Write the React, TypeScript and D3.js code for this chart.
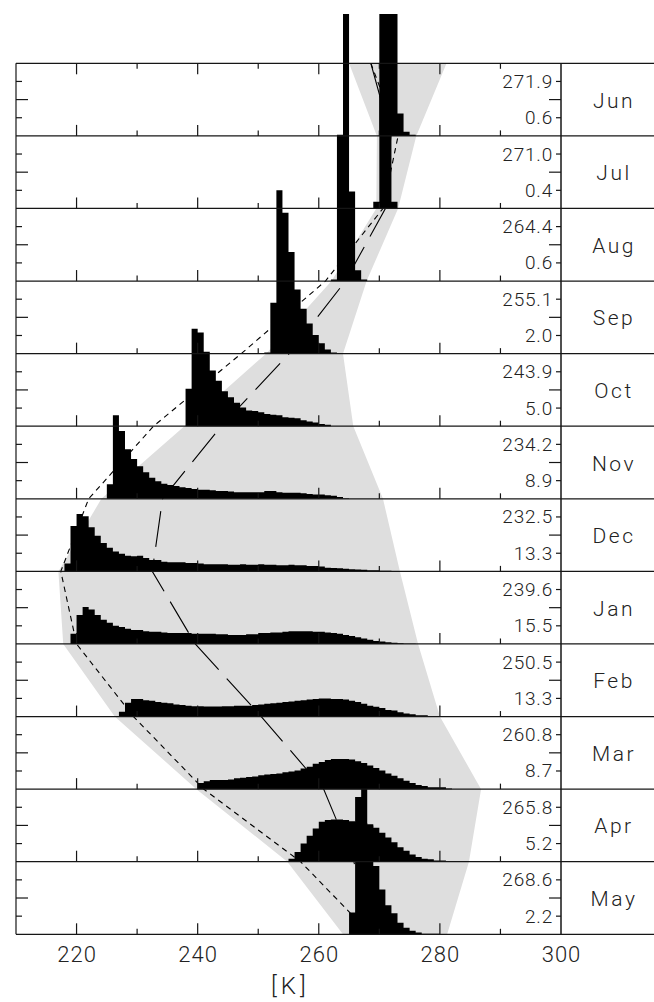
import React from "react";
import * as d3 from "d3";

const W = 654;
const H = 1002;

const months = ["Jun", "Jul", "Aug", "Sep", "Oct", "Nov", "Dec", "Jan", "Feb", "Mar", "Apr", "May"];
const meanLabels = ["271.9", "271.0", "264.4", "255.1", "243.9", "234.2", "232.5", "239.6", "250.5", "260.8", "265.8", "268.6"];
const stdLabels = ["0.6", "0.4", "0.6", "2.0", "5.0", "8.9", "13.3", "15.5", "13.3", "8.7", "5.2", "2.2"];

// long-dashed curve: value at top of first panel, then monthly mean at each panel bottom
const meanCurveK = [268.6, 271.9, 271.0, 264.4, 255.1, 243.9, 234.2, 232.5, 239.6, 250.5, 260.8, 265.8, 268.6];
// short-dashed curve at panel boundaries
const shortDashK = [268.6, 273.1, 270.6, 261.1, 247.2, 232.7, 222.0, 217.4, 220.0, 229.4, 241.0, 257.0, 268.6];
// grey envelope at panel boundaries
const bandLeftK = [265.0, 269.6, 269.5, 262.1, 251.3, 237.8, 224.1, 217.0, 217.8, 226.3, 239.8, 254.8, 264.0];
const bandRightK = [281.1, 276.1, 273.1, 267.9, 264.0, 265.7, 270.6, 273.4, 276.4, 280.0, 286.8, 284.8, 281.2];

// histograms: first bin (K) and frequencies (%) of 1 K bins
const histStart = [270, 269, 262, 251, 238, 225, 218, 219, 227, 240, 255, 265];
const histJun = [6.6, 50, 40, 3.7, 0.7, 0.2];
const histJul = [1.1, 49, 49, 1.1];
const histAug = [0.25, 24.2, 58, 14.8, 1.8, 0.25];
const histSep = [0.2, 8.4, 27, 23.3, 16.8, 10.6, 7.4, 5.0, 3.1, 1.7, 0.7, 0.2];
const histOct = [6.2, 16.1, 15.5, 12.3, 9.2, 7.5, 5.8, 4.8, 3.9, 3.1, 2.6, 2.5, 2.3, 2.0, 1.9, 1.8, 1.5, 1.4, 1.3, 1.0, 0.8, 0.6, 0.35, 0.25];
const histNov = [2.4, 13.8, 11.2, 8.2, 6.6, 5.4, 4.4, 3.5, 2.9, 2.5, 2.3, 2.1, 1.9, 1.8, 1.6, 1.5, 1.5, 1.4, 1.3, 1.3, 1.2, 1.1, 1.1, 1.1, 1.1, 1.1, 1.3, 1.3, 1.1, 1.0, 1.0, 1.0, 0.9, 0.8, 0.7, 0.7, 0.6, 0.5, 0.3, 0.1];
const histDec = [1.3, 7.5, 9.5, 9.1, 7.3, 5.9, 4.7, 3.9, 3.3, 2.9, 2.6, 2.5, 2.6, 2.2, 1.9, 1.9,
  1.6, 1.5, 1.5, 1.5, 1.4, 1.4, 1.3, 1.2, 1.2, 1.2, 1.2, 1.1, 1.1, 1.2, 1.1, 1.1,
  1.2, 1.1, 1.1, 1.0, 1.0, 1.1, 1.0, 1.0, 0.9, 0.9, 0.8, 0.6, 0.55, 0.5, 0.45, 0.35,
  0.3, 0.25, 0.2, 0.2, 0.1, 0.1, 0.05, 0.05];
const histJan = [1.7, 4.8, 6.1, 5.7, 4.8, 4.0, 3.5, 3.0, 2.8, 2.5, 2.3, 2.3, 2.1, 2.0, 2.0, 1.9,
  1.8, 1.8, 1.8, 1.8, 1.7, 1.7, 1.7, 1.7, 1.6, 1.6, 1.5, 1.5, 1.5, 1.6, 1.6, 1.8,
  1.8, 1.9, 1.9, 2.0, 2.1, 2.1, 2.1, 2.1, 2.0, 2.0, 1.9, 1.8, 1.7, 1.5, 1.3, 1.1,
  0.9, 0.7, 0.5, 0.4, 0.3, 0.2, 0.1, 0.05, 0.05];
const histFeb = [0.8, 2.3, 2.9, 2.9, 2.7, 2.6, 2.4, 2.3, 2.2, 2.0, 1.9, 1.8, 1.7, 1.7, 1.65, 1.65,
  1.65, 1.7, 1.7, 1.8, 1.8, 1.8, 1.9, 2.0, 2.1, 2.2, 2.3, 2.4, 2.5, 2.6, 2.7, 2.8,
  2.9, 3.0, 3.0, 2.9, 2.9, 2.8, 2.6, 2.4, 2.1, 1.8, 1.6, 1.4, 1.1, 1.0, 0.7, 0.5,
  0.4, 0.2, 0.2, 0.1, 0.1];
const histMar = [1.0, 1.3, 1.5, 1.5, 1.5, 1.6, 1.8, 1.9, 2.0, 2.1, 2.3, 2.4, 2.5, 2.6, 2.8, 2.9,
  3.1, 3.4, 3.7, 4.2, 4.5, 4.8, 5.0, 5.0, 5.0, 4.9, 4.6, 4.3, 3.9, 3.5, 3.1, 2.6,
  2.2, 1.8, 1.4, 1.0, 0.7, 0.5, 0.3, 0.3, 0.3, 0.1];
const histApr = [0.5, 1.6, 3.0, 4.3, 5.5, 6.6, 6.9, 7.0, 7.0, 6.9, 6.7, 6.6, 6.4, 6.2, 5.6, 4.8,
  4.0, 3.2, 2.4, 1.8, 1.2, 0.8, 0.5, 0.4, 0.2, 0.2];
const histMay = [3.6, 22.7, 25, 18, 11.3, 7.4, 4.8, 3.5, 1.9, 1.1, 0.6, 0.3, 0.1, 0.1, 0.1];

const histograms = [histJun, histJul, histAug, histSep, histOct, histNov, histDec, histJan, histFeb, histMar, histApr, histMay];

const xMinorTicks = [220, 230, 240, 250, 260, 270, 280, 290];
const xMajorTicks = [220, 240, 260, 280];
const xTickLabels = [220, 240, 260, 280, 300];

const FONT = "Roboto, 'Open Sans', 'DejaVu Sans', sans-serif";

export default function App() {
  const left = 16;
  const right = 561;
  const top = 63.3;
  const bottom = 934.3;

  const x = d3.scaleLinear().domain([210, 300]).range([left, right]);
  const band = d3.scaleBand<string>().domain(months).range([top, bottom]).padding(0);
  const ph = band.bandwidth();
  const freq = d3.scaleLinear().domain([0, 12]).range([0, ph]);
  const boundaryY = (i: number) => (i < months.length ? (band(months[i]) as number) : bottom);

  // grey envelope polygon
  const envPts: [number, number][] = [
    ...bandLeftK.map((k, i) => [x(k), boundaryY(i)] as [number, number]),
    ...bandRightK.map((k, i) => [x(k), boundaryY(i)] as [number, number]).reverse(),
  ];
  const envPath = d3.line()(envPts) + "Z";

  const boundLine = d3
    .line<number>()
    .x((k) => x(k))
    .y((_, i) => boundaryY(i));

  const stroke = "#161616";
  const sw = 1.2;

  return (
    <svg
      width={W}
      height={H}
      viewBox={`0 0 ${W} ${H}`}
      style={{ position: "absolute", left: 0, top: 0, background: "#fff" }}
    >
      <defs>
        <clipPath id="histClip">
          <rect x={0} y={14} width={W} height={H - 14} />
        </clipPath>
      </defs>
      <rect x={0} y={0} width={W} height={H} fill="#fff" />

      {/* envelope */}
      <path d={envPath} fill="#dedede" stroke="none" />

      {/* curves */}
      <path d={boundLine(shortDashK) || ""} fill="none" stroke="#000" strokeWidth={1.1} strokeDasharray="5.5,4.5" />
      <path d={boundLine(meanCurveK) || ""} fill="none" stroke="#000" strokeWidth={1.1} strokeDasharray="36,12" />

      {/* histograms */}
      <g clipPath="url(#histClip)">
        {histograms.map((vals, mi) => {
          const base = boundaryY(mi + 1);
          const start = histStart[mi];
          const pts: [number, number][] = vals.map((v, i) => [start + i, v] as [number, number]);
          pts.push([start + vals.length, 0]);
          const area = d3
            .area<[number, number]>()
            .x((d) => x(d[0]))
            .y0(base)
            .y1((d) => base - freq(d[1]))
            .curve(d3.curveStepAfter);
          return <path key={months[mi]} d={area(pts) || ""} fill="#000" stroke="none" />;
        })}
      </g>

      {/* panels */}
      {months.map((m, i) => {
        const y0 = boundaryY(i);
        const y1 = boundaryY(i + 1);
        return (
          <g key={m}>
            {xMinorTicks.map((t) => (
              <line
                key={t}
                x1={x(t)}
                x2={x(t)}
                y1={y1}
                y2={y1 - (xMajorTicks.includes(t) ? 11 : 5.5)}
                stroke={stroke}
                strokeWidth={sw}
              />
            ))}
            {i === 0 &&
              xMinorTicks.map((t) => (
                <line
                  key={"t" + t}
                  x1={x(t)}
                  x2={x(t)}
                  y1={y0}
                  y2={y0 + (xMajorTicks.includes(t) ? 11 : 5.5)}
                  stroke={stroke}
                  strokeWidth={sw}
                />
              ))}
            {[0.25, 0.5, 0.75].map((f) => (
              <line
                key={"l" + f}
                x1={left}
                x2={left + (f === 0.5 ? 12 : 6)}
                y1={y0 + f * ph}
                y2={y0 + f * ph}
                stroke={stroke}
                strokeWidth={sw}
              />
            ))}
            {[0.25, 0.5, 0.75].map((f) => (
              <line
                key={"r" + f}
                x1={right}
                x2={right - (f === 0.5 ? 12 : 5)}
                y1={y0 + f * ph}
                y2={y0 + f * ph}
                stroke={stroke}
                strokeWidth={sw}
              />
            ))}
            <text
              x={553}
              y={y0 + 0.25 * ph}
              textAnchor="end"
              dominantBaseline="central"
              fontFamily={FONT}
              fontWeight={300}
              fontSize={19}
              letterSpacing={0.8}
              fill="#222"
            >
              {meanLabels[i]}
            </text>
            <text
              x={553}
              y={y0 + 0.75 * ph}
              textAnchor="end"
              dominantBaseline="central"
              fontFamily={FONT}
              fontWeight={300}
              fontSize={19}
              letterSpacing={0.8}
              fill="#222"
            >
              {stdLabels[i]}
            </text>
            <text
              x={614}
              y={y0 + 0.5 * ph + 1}
              textAnchor="middle"
              dominantBaseline="central"
              fontFamily={FONT}
              fontWeight={300}
              fontSize={21}
              letterSpacing={2.5}
              fill="#222"
            >
              {m}
            </text>
          </g>
        );
      })}

      {d3.range(months.length + 1).map((i) => (
        <line key={"h" + i} x1={left} x2={W} y1={boundaryY(i)} y2={boundaryY(i)} stroke={stroke} strokeWidth={sw} />
      ))}
      <line x1={left} x2={left} y1={top} y2={bottom} stroke={stroke} strokeWidth={sw} />
      <line x1={right} x2={right} y1={top} y2={bottom} stroke={stroke} strokeWidth={sw + 0.3} />

      {xTickLabels.map((t) => (
        <text
          key={"xl" + t}
          x={x(t) + 0.5}
          y={962}
          textAnchor="middle"
          fontFamily={FONT}
          fontWeight={300}
          fontSize={22}
          letterSpacing={1}
          fill="#222"
        >
          {t}
        </text>
      ))}
      <text
        x={x(255.3)}
        y={994}
        textAnchor="middle"
        fontFamily={FONT}
        fontWeight={300}
        fontSize={24}
        letterSpacing={4}
        fill="#222"
      >
        [K]
      </text>
    </svg>
  );
}
